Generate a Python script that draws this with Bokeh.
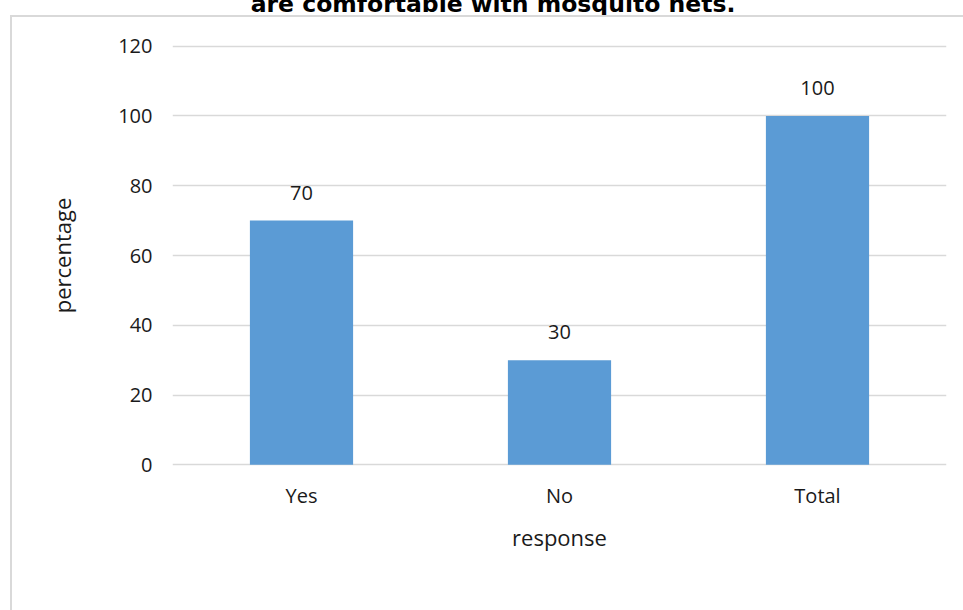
from bokeh.plotting import figure
from bokeh.models import ColumnDataSource, LabelSet, FixedTicker, Div
from bokeh.layouts import column
from bokeh.core.properties import value
from bokeh.embed import file_html
from bokeh.resources import INLINE

categories = ["Yes", "No", "Total"]
values = [70, 30, 100]
y_ticks = [0, 20, 40, 60, 80, 100, 120]
title_text = "are comfortable with mosquito nets."

FONT = "Open Sans"
TXT = "#1a1a1a"

src = ColumnDataSource(dict(cat=categories, val=values, lab=[str(v) for v in values]))

p = figure(x_range=categories, y_range=(-0.5, 120.5), width=963, height=595,
           output_backend="svg", toolbar_location=None,
           min_border_left=172, min_border_right=17, min_border_top=29, min_border_bottom=144)
p.outline_line_color = None
p.background_fill_color = "white"
p.border_fill_color = None
# outer chart border of the cropped screenshot (left and top edges only are visible)
p.styles = {
    "background-image": "linear-gradient(#d9d9d9, #d9d9d9), linear-gradient(#d9d9d9, #d9d9d9)",
    "background-size": "2px 100%, 100% 2px",
    "background-position": "10px 0px, 10px 0px",
    "background-repeat": "no-repeat",
}

p.vbar(x="cat", top="val", width=0.40, source=src, color="#5b9bd5", line_color=None)

p.add_layout(LabelSet(x="cat", y="val", text="lab", source=src, y_offset=21,
                      text_align="center", text_baseline="bottom",
                      text_font_size="20px", text_font=value(FONT), text_color=TXT))

p.yaxis.ticker = FixedTicker(ticks=y_ticks)
p.yaxis.axis_line_color = None
p.xaxis.axis_line_color = None
for ax in (p.xaxis, p.yaxis):
    ax.major_tick_line_color = None
    ax.minor_tick_line_color = None
    ax.major_label_text_font = FONT
    ax.major_label_text_font_size = "20px"
    ax.major_label_text_color = TXT
    ax.axis_label_text_font = FONT
    ax.axis_label_text_font_size = "22px"
    ax.axis_label_text_font_style = "normal"
    ax.axis_label_text_color = TXT
p.yaxis.major_label_standoff = 14
p.xaxis.major_label_standoff = 9
p.xaxis.axis_label = "response"
p.yaxis.axis_label = "percentage"
p.xaxis.axis_label_standoff = 10
p.yaxis.axis_label_standoff = 38

p.xgrid.grid_line_color = None
p.ygrid.ticker = FixedTicker(ticks=y_ticks)
p.ygrid.grid_line_color = "#d9d9d9"
p.ygrid.grid_line_width = 1.5

title_div = Div(
    text=f'<div style="margin-top:-8px;width:986px;text-align:center;'
         f'font-family:\'DejaVu Sans\';font-weight:bold;font-size:23.5px;'
         f'line-height:24px;color:#000;white-space:nowrap">{title_text}</div>',
    width=963, height=15, margin=0,
    styles={"overflow": "hidden"},
)

layout = column(title_div, p, spacing=0)

open("out.html", "w").write(file_html(layout, INLINE))
